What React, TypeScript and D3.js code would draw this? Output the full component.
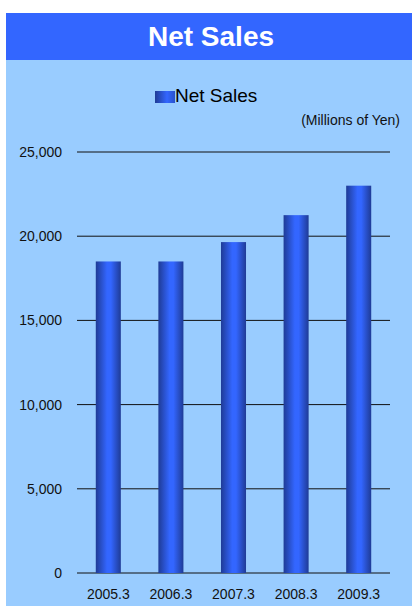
import React from "react";
import * as d3 from "d3";

const categories = ["2005.3", "2006.3", "2007.3", "2008.3", "2009.3"];
const netSales = [18500, 18500, 19650, 21250, 23000];
const yTicks = [0, 5000, 10000, 15000, 20000, 25000];

export default function App() {
  const W = 412, H = 607;
  const left = 77, right = 390, top = 152, bottom = 573;
  const x = d3.scaleBand<string>().domain(categories).range([left, right]).paddingInner(0.6).paddingOuter(0.3);
  const y = d3.scaleLinear().domain([0, 25000]).range([bottom, top]);
  const fmt = d3.format(",");
  const font = "'Liberation Sans', Arial, sans-serif";
  return (
    <svg width={W} height={H} style={{ position: "absolute", left: 0, top: 0 }} fontFamily={font}>
      <defs>
        <linearGradient id="barGrad" x1="0" x2="1" y1="0" y2="0">
          <stop offset="0%" stopColor="#1f3b96" />
          <stop offset="45%" stopColor="#3366ff" />
          <stop offset="60%" stopColor="#3366ff" />
          <stop offset="100%" stopColor="#1f3b96" />
        </linearGradient>
        <linearGradient id="legGrad" x1="0" x2="1" y1="0" y2="0">
          <stop offset="0%" stopColor="#1f3b96" />
          <stop offset="60%" stopColor="#3366ff" />
          <stop offset="100%" stopColor="#2a52cc" />
        </linearGradient>
      </defs>
      <rect x={6} y={13} width={406} height={47} fill="#3366ff" />
      <rect x={6} y={60} width={406} height={546} fill="#99ccff" />
      <text x={211} y={46} textAnchor="middle" fill="#ffffff" fontWeight="bold" fontSize={28}>Net Sales</text>
      <rect x={155} y={91} width={20} height={12} fill="url(#legGrad)" />
      <text x={175} y={102} fontSize={19} fill="#000">Net Sales</text>
      <text x={400} y={125} textAnchor="end" fontSize={14} fill="#111">(Millions of Yen)</text>
      {yTicks.map((t) => (
        <g key={t}>
          <line x1={left} x2={right} y1={y(t)} y2={y(t)} stroke="#111" strokeWidth={1} />
          <text x={62} y={y(t)} dy="0.35em" textAnchor="end" fontSize={14} fill="#111">{fmt(t)}</text>
        </g>
      ))}
      {categories.map((c, i) => (
        <g key={c}>
          <rect x={x(c)} y={y(netSales[i])} width={x.bandwidth()} height={bottom - y(netSales[i])} fill="url(#barGrad)" />
          <text x={(x(c) as number) + x.bandwidth() / 2} y={599} textAnchor="middle" fontSize={14} fill="#111">{c}</text>
        </g>
      ))}
    </svg>
  );
}
